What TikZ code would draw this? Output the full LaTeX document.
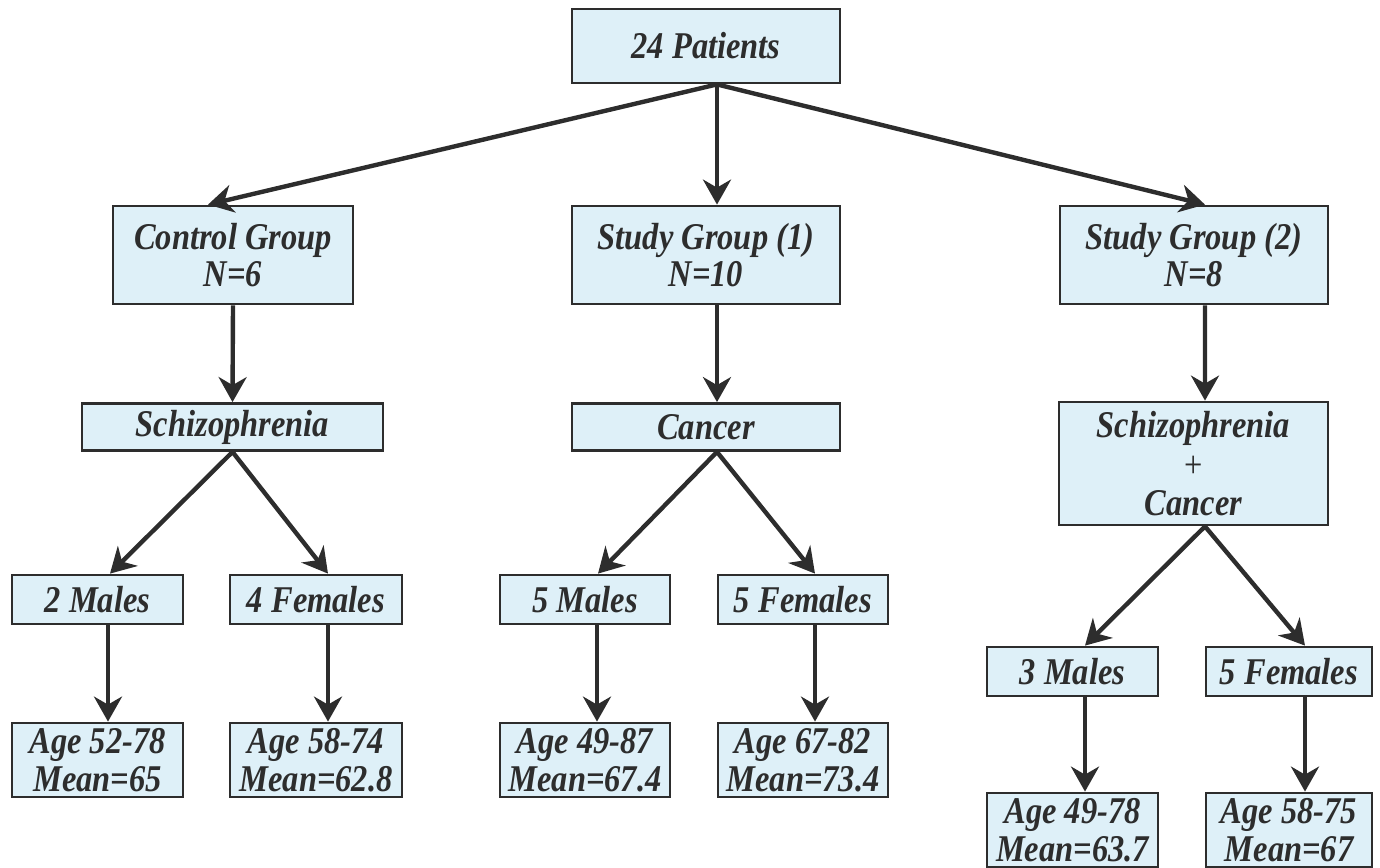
\documentclass[tikz,border=0pt]{standalone}
\usepackage{fontspec}
\setmainfont{Liberation Serif}
\newfontfamily\boxfont{Liberation Serif}[FakeStretch=0.86]
\usetikzlibrary{arrows.meta}
\definecolor{boxfill}{RGB}{222,240,248}
\definecolor{boxline}{RGB}{45,45,45}
\tikzset{
  box/.style={draw=boxline, line width=1.6pt, fill=boxfill, text=boxline, inner sep=0pt, align=center,
    font=\boxfont\fontsize{21.5}{21.5}\selectfont\bfseries\itshape},
  arr/.style={draw=boxline, line width=2.5pt, -{Stealth[length=0.5cm,width=0.56cm,inset=0.16cm]}}
}
\begin{document}
\begin{tikzpicture}[x=0.02cm,y=-0.02cm]
\useasboundingbox (0,0) rectangle (1380,867);
% top
\node[box, minimum width=5.36cm, minimum height=1.48cm] (all) at (706,46) {24 Patients};
% groups
\node[box, minimum width=4.8cm, minimum height=1.96cm] (ctrl) at (233,255) {Control Group\\N=6};
\node[box, minimum width=5.36cm, minimum height=1.96cm] (sg1) at (706,255) {Study Group (1)\\N=10};
\node[box, minimum width=5.36cm, minimum height=1.96cm] (sg2) at (1194,255) {Study Group (2)\\N=8};
% diagnoses
\node[box, minimum width=6.02cm, minimum height=0.94cm] (schiz) at (232.5,427) {Schizophrenia};
\node[box, minimum width=5.36cm, minimum height=0.94cm] (canc) at (706,427) {Cancer};
\node[box, minimum width=5.38cm, minimum height=2.46cm] (both) at (1193.5,463.5) {Schizophrenia\\[1pt]{\mdseries\upshape +}\\Cancer};
% sex
\node[box, minimum width=3.42cm, minimum height=0.98cm] (m1) at (97.5,599.5) {2 Males};
\node[box, minimum width=3.44cm, minimum height=0.98cm] (f1) at (316,599.5) {4 Females};
\node[box, minimum width=3.4cm, minimum height=0.98cm] (m2) at (585,599.5) {5 Males};
\node[box, minimum width=3.4cm, minimum height=0.98cm] (f2) at (803,599.5) {5 Females};
\node[box, minimum width=3.42cm, minimum height=0.98cm] (m3) at (1072.5,671.5) {3 Males};
\node[box, minimum width=3.32cm, minimum height=0.98cm] (f3) at (1289,671.5) {5 Females};
% ages
\node[box, minimum width=3.42cm, minimum height=1.48cm] (a1) at (97.5,760) {Age 52-78\\Mean=65};
\node[box, minimum width=3.44cm, minimum height=1.48cm] (a2) at (316,760) {Age 58-74\\Mean=62.8};
\node[box, minimum width=3.4cm, minimum height=1.48cm] (a3) at (585,760) {Age 49-87\\Mean=67.4};
\node[box, minimum width=3.4cm, minimum height=1.48cm] (a4) at (803,760) {Age 67-82\\Mean=73.4};
\node[box, minimum width=3.42cm, minimum height=1.48cm] (a5) at (1072.5,830) {Age 49-78\\Mean=63.7};
\node[box, minimum width=3.32cm, minimum height=1.48cm] (a6) at (1289,830) {Age 58-75\\Mean=67};
% arrows
\draw[arr] ([xshift=0.22cm]all.south) -- ([xshift=-0.5cm]ctrl.north);
\draw[arr] ([xshift=0.22cm]all.south) -- ([xshift=0.22cm]sg1.north);
\draw[arr] ([xshift=0.22cm]all.south) -- ([xshift=0.22cm]sg2.north);
\draw[arr] (ctrl.south) -- (schiz.north);
\draw[arr] ([xshift=0.22cm]sg1.south) -- ([xshift=0.22cm]canc.north);
\draw[arr] ([xshift=0.22cm]sg2.south) -- ([xshift=0.23cm]both.north);
\draw[arr] (schiz.south) -- ([xshift=0.25cm]m1.north);
\draw[arr] (schiz.south) -- ([xshift=0.24cm]f1.north);
\draw[arr] ([xshift=0.22cm]canc.south) -- ([xshift=0.26cm]m2.north);
\draw[arr] ([xshift=0.22cm]canc.south) -- ([xshift=0.24cm]f2.north);
\draw[arr] ([xshift=0.23cm]both.south) -- ([xshift=0.25cm]m3.north);
\draw[arr] ([xshift=0.23cm]both.south) -- ([xshift=0.32cm]f3.north);
\draw[arr] ([xshift=0.21cm]m1.south) -- ([xshift=0.21cm]a1.north);
\draw[arr] ([xshift=0.24cm]f1.south) -- ([xshift=0.24cm]a2.north);
\draw[arr] ([xshift=0.24cm]m2.south) -- ([xshift=0.24cm]a3.north);
\draw[arr] ([xshift=0.24cm]f2.south) -- ([xshift=0.24cm]a4.north);
\draw[arr] ([xshift=0.25cm]m3.south) -- ([xshift=0.25cm]a5.north);
\draw[arr] ([xshift=0.32cm]f3.south) -- ([xshift=0.32cm]a6.north);
\end{tikzpicture}
\end{document}
